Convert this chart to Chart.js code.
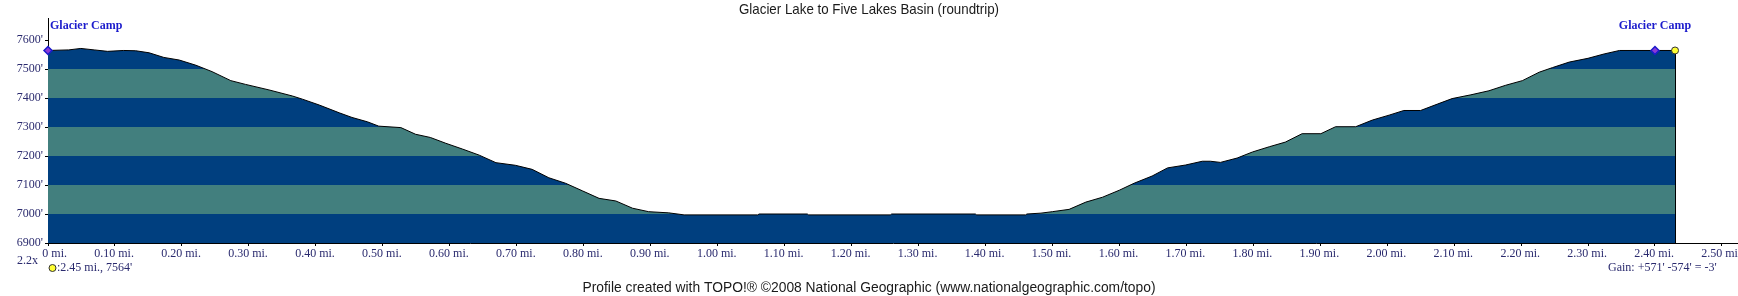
<!DOCTYPE html>
<html>
<head>
<meta charset="utf-8">
<title>Glacier Lake to Five Lakes Basin (roundtrip)</title>
<script src="https://cdn.jsdelivr.net/npm/chart.js@4.4.0/dist/chart.umd.min.js"></script>
<style>
  html, body { margin: 0; padding: 0; background: #fff; }
  #wrap { width: 1738px; height: 296px; }
</style>
</head>
<body>
<div id="wrap"><canvas id="profileChart" width="1738" height="296"></canvas></div>
<script>
// ========================
// DADOS DO PERFIL
// ========================
const distMi = [
    0.000, 0.031, 0.049, 0.069, 0.089, 0.113, 0.131, 0.151, 0.173, 0.196,
    0.221, 0.245, 0.273, 0.295, 0.330, 0.365, 0.380, 0.405, 0.435, 0.454,
    0.477, 0.494, 0.527, 0.549, 0.571, 0.594, 0.619, 0.644, 0.669, 0.698,
    0.723, 0.748, 0.773, 0.798, 0.823, 0.848, 0.873, 0.897, 0.927, 0.950,
    1.060, 1.062, 1.134, 1.136, 1.258, 1.260, 1.385, 1.387, 1.460, 1.462,
    1.483, 1.500, 1.525, 1.550, 1.575, 1.600, 1.622, 1.649, 1.672, 1.699,
    1.724, 1.736, 1.751, 1.776, 1.799, 1.824, 1.848, 1.873, 1.901, 1.923,
    1.953, 1.978, 2.003, 2.025, 2.050, 2.075, 2.097, 2.125, 2.152, 2.177,
    2.202, 2.227, 2.247, 2.272, 2.300, 2.324, 2.347, 2.430
];
const elevFt = [
    7564, 7566, 7571, 7566, 7561, 7564, 7563, 7556, 7540, 7531,
    7513, 7491, 7460, 7447, 7428, 7407, 7396, 7376, 7349, 7333,
    7318, 7303, 7298, 7275, 7264, 7244, 7224, 7203, 7177, 7168,
    7154, 7125, 7106, 7080, 7054, 7045, 7020, 7008, 7004, 6997,
    6997, 7000, 7000, 6997, 6997, 7000, 7000, 6997, 6997, 7000,
    7003, 7008, 7016, 7041, 7058, 7082, 7106, 7131, 7159, 7169,
    7182, 7182, 7178, 7193, 7214, 7232, 7248, 7277, 7277, 7301,
    7301, 7324, 7341, 7357, 7357, 7379, 7398, 7411, 7425, 7444,
    7460, 7489, 7505, 7524, 7537, 7552, 7564, 7564
];

const waypointNames = ['Glacier Camp', 'Glacier Camp'];
const waypointMi = [0, 2.40];
const waypointFt = [7564, 7564];

const cursorMi = [2.43];
const cursorFt = [7564];

// faixas de cor de 100 em 100 pés
const bandFt = [6900, 7000, 7100, 7200, 7300, 7400, 7500, 7600, 7700];

const xTickValues = [0, 0.1, 0.2, 0.3, 0.4, 0.5, 0.6, 0.7, 0.8, 0.9, 1.0, 1.1, 1.2,
    1.3, 1.4, 1.5, 1.6, 1.7, 1.8, 1.9, 2.0, 2.1, 2.2, 2.3, 2.4, 2.5];
const xTickLabels = ['0 mi.', '0.10 mi.', '0.20 mi.', '0.30 mi.', '0.40 mi.', '0.50 mi.',
    '0.60 mi.', '0.70 mi.', '0.80 mi.', '0.90 mi.', '1.00 mi.', '1.10 mi.', '1.20 mi.',
    '1.30 mi.', '1.40 mi.', '1.50 mi.', '1.60 mi.', '1.70 mi.', '1.80 mi.', '1.90 mi.',
    '2.00 mi.', '2.10 mi.', '2.20 mi.', '2.30 mi.', '2.40 mi.', '2.50 mi.'];
const yTickValues = [6900, 7000, 7100, 7200, 7300, 7400, 7500, 7600];
const yTickLabels = ["6900'", "7000'", "7100'", "7200'", "7300'", "7400'", "7500'", "7600'"];

const titleText = 'Glacier Lake to Five Lakes Basin (roundtrip)';
const footerText = 'Profile created with TOPO!\u00AE \u00A92008 National Geographic (www.nationalgeographic.com/topo)';
const zoomText = '2.2x';
const cursorText = ":2.45 mi., 7564'";
const gainText = "Gain: +571' -574' = -3'";

// ========================
// CORES
// ========================
const BLUE = '#003f7f';
const TEAL = '#427f7e';
const LABEL = '#2a2a6e';
const SERIF = '"Liberation Serif", "Times New Roman", serif';
const SANS = '"Liberation Sans", Arial, sans-serif';

function bandFill(context) {
    const chart = context.chart;
    const area = chart.chartArea;
    if (!area) return null;
    const y = chart.scales.y;
    const span = area.bottom - area.top;
    const g = chart.ctx.createLinearGradient(0, area.bottom, 0, area.top);
    for (let i = 0; i < bandFt.length - 1; i++) {
        const c = i % 2 === 0 ? BLUE : TEAL;
        const a = Math.min(Math.max((area.bottom - y.getPixelForValue(bandFt[i])) / span, 0), 1);
        const b = Math.min(Math.max((area.bottom - y.getPixelForValue(bandFt[i + 1])) / span, 0), 1);
        g.addColorStop(a, c);
        g.addColorStop(b, c);
    }
    return g;
}

function squeezeText(ctx, text, cx, cy, width, font, color) {
    ctx.save();
    ctx.font = font;
    ctx.fillStyle = color;
    ctx.textAlign = 'center';
    ctx.textBaseline = 'middle';
    const w = ctx.measureText(text).width;
    ctx.translate(cx, cy);
    ctx.scale(width / w, 1);
    ctx.fillText(text, 0, 0);
    ctx.restore();
}

// ========================
// TEXTOS E DETALHES
// ========================
const topoPlugin = {
    id: 'topoText',
    afterDatasetDraw(chart, args) {
        if (args.index !== 2) return;
        // fecho vertical do perfil no fim do percurso
        const ctx = chart.ctx;
        const x = Math.round(chart.scales.x.getPixelForValue(distMi[distMi.length - 1])) + 0.5;
        const y0 = chart.scales.y.getPixelForValue(elevFt[elevFt.length - 1]);
        ctx.save();
        ctx.strokeStyle = '#000';
        ctx.lineWidth = 1;
        ctx.beginPath();
        ctx.moveTo(x, y0);
        ctx.lineTo(x, chart.chartArea.bottom);
        ctx.stroke();
        ctx.restore();
    },
    afterDraw(chart) {
        const ctx = chart.ctx;
        const area = chart.chartArea;
        const xs = chart.scales.x;
        const mid = chart.width / 2;

        squeezeText(ctx, titleText, mid, 10, 260, '15px ' + SANS, '#1a1a1a');
        squeezeText(ctx, footerText, mid, 288, 573, '14px ' + SANS, '#1a1a1a');

        ctx.save();
        ctx.font = 'bold 12px ' + SERIF;
        ctx.fillStyle = '#1c1ccc';
        ctx.textBaseline = 'middle';
        ctx.textAlign = 'left';
        waypointNames.forEach(function(name, i) {
            const w = ctx.measureText(name).width;
            const px = xs.getPixelForValue(waypointMi[i]);
            const left = Math.max(area.left + 2, px - w / 2);
            ctx.fillText(name, left, 26);
        });

        ctx.font = '12px ' + SERIF;
        ctx.fillStyle = LABEL;
        ctx.textAlign = 'right';
        ctx.fillText(zoomText, 38, 261);

        ctx.textAlign = 'left';
        ctx.fillText(cursorText, 57, 268);
        ctx.fillText(gainText, 1608, 268);

        ctx.beginPath();
        ctx.arc(52.5, 268, 3.5, 0, Math.PI * 2);
        ctx.fillStyle = '#ffff33';
        ctx.fill();
        ctx.strokeStyle = '#333';
        ctx.lineWidth = 1;
        ctx.stroke();
        ctx.restore();
    }
};

// ========================
// GRÁFICO
// ========================
function renderProfile() {
    const ctx = document.getElementById('profileChart');
    const profile = distMi.map((d, i) => ({ x: d, y: elevFt[i] }));
    const waypoints = waypointMi.map((d, i) => ({ x: d, y: waypointFt[i] }));
    const cursor = cursorMi.map((d, i) => ({ x: d, y: cursorFt[i] }));

    window.profileChartInstance = new Chart(ctx, {
        type: 'line',
        data: {
            datasets: [{
                label: 'Cursor',
                data: cursor,
                showLine: false,
                pointStyle: 'circle',
                pointRadius: 3.5,
                pointBackgroundColor: '#ffff33',
                pointBorderColor: '#333',
                pointBorderWidth: 1,
                clip: false,
                order: 0
            }, {
                label: 'Waypoints',
                data: waypoints,
                showLine: false,
                pointStyle: 'rectRot',
                pointRadius: 4,
                pointBackgroundColor: '#8a3ad6',
                pointBorderColor: '#1a1acc',
                pointBorderWidth: 1.5,
                clip: false,
                order: 1
            }, {
                label: 'Elevation',
                data: profile,
                borderColor: '#000',
                borderWidth: 1,
                backgroundColor: bandFill,
                fill: 'start',
                tension: 0,
                pointRadius: 0,
                order: 2
            }]
        },
        options: {
            responsive: false,
            animation: false,
            layout: { autoPadding: false, padding: { top: 18, left: 0, right: 0, bottom: 0 } },
            plugins: {
                legend: { display: false },
                tooltip: { enabled: false },
                title: { display: false }
            },
            scales: {
                x: {
                    type: 'linear',
                    min: 0,
                    max: 2.524,
                    afterBuildTicks: s => { s.ticks = xTickValues.map(v => ({ value: v })); },
                    afterFit: s => { s.height = 53; s.paddingLeft = 0; s.paddingRight = 0; },
                    border: { display: true, color: '#000', width: 1 },
                    grid: { drawOnChartArea: false, drawTicks: true, tickLength: 3, color: '#000' },
                    ticks: {
                        autoSkip: false,
                        maxRotation: 0,
                        align: 'end',
                        labelOffset: 19,
                        padding: 1,
                        color: LABEL,
                        font: { family: SERIF, size: 12 },
                        callback: (v, i) => xTickLabels[i]
                    }
                },
                y: {
                    type: 'linear',
                    min: 6900,
                    max: 7676,
                    afterBuildTicks: s => { s.ticks = yTickValues.map(v => ({ value: v })); },
                    afterFit: s => { s.width = 48; s.paddingTop = 0; s.paddingBottom = 0; },
                    border: { display: true, color: '#000', width: 1 },
                    grid: { drawOnChartArea: false, drawTicks: true, tickLength: 3, color: '#000' },
                    ticks: {
                        padding: 2,
                        color: LABEL,
                        font: { family: SERIF, size: 12 },
                        callback: (v, i) => yTickLabels[i]
                    }
                }
            }
        },
        plugins: [topoPlugin]
    });
}

renderProfile();
</script>
</body>
</html>
